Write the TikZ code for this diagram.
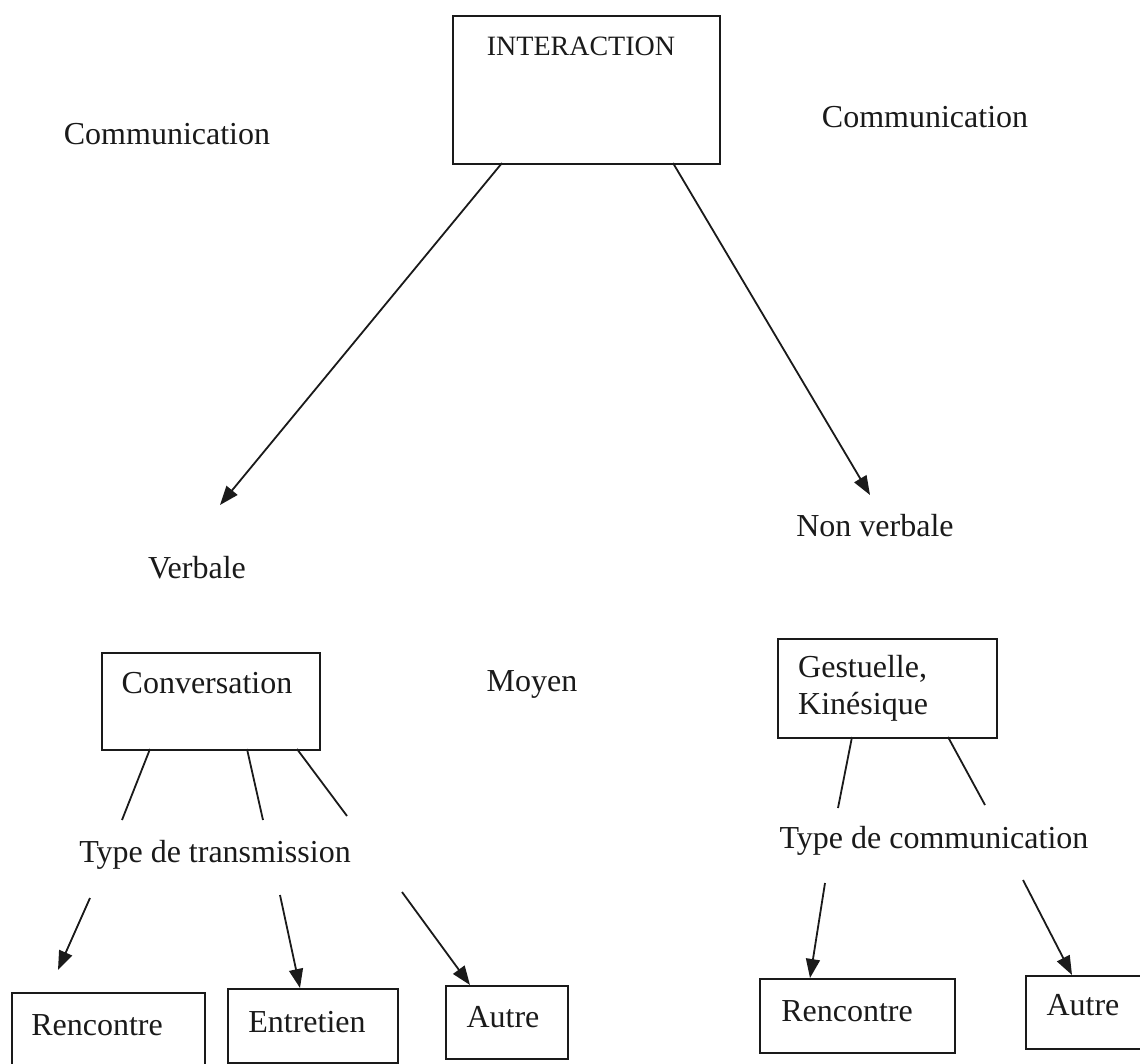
\documentclass[tikz,border=0pt]{standalone}
\usepackage{fontspec}
\setmainfont{Liberation Serif}
\usetikzlibrary{arrows.meta}
\definecolor{ink}{HTML}{1A1A1A}
\tikzset{
  box/.style={draw=ink, line width=2pt, rectangle, inner sep=0pt, anchor=north west},
  txt/.style={text=ink, inner sep=0pt, anchor=base, font=\fontsize{32}{36}\selectfont},
  con/.style={draw=ink, line width=1.8pt},
  arr/.style={draw=ink, line width=1.8pt, -{Triangle[length=19pt,width=14pt]}},
}
\begin{document}
\begin{tikzpicture}[x=1pt, y=-1pt]
\useasboundingbox[fill=white] (0,0) rectangle (1140,1064);

% boxes
\node[box, minimum width=267pt, minimum height=148pt] (inter) at (452,15) {};
\node[box, minimum width=218pt, minimum height=97pt] (conv) at (101,652) {};
\node[box, minimum width=219pt, minimum height=99pt] (gest) at (777,638) {};
\node[box, minimum width=193pt, minimum height=72pt] (renL) at (11,992) {};
\node[box, minimum width=170pt, minimum height=74pt] (entr) at (227,988) {};
\node[box, minimum width=122pt, minimum height=73pt] (autL) at (445,985) {};
\node[box, minimum width=195pt, minimum height=74pt] (renR) at (759,978) {};
\node[box, minimum width=140pt, minimum height=73pt] (autR) at (1025,975) {};

% texts
\node[txt, font=\fontsize{28}{32}\selectfont] (tinter) at (581,56) {INTERACTION};
\node[txt] (comL) at (167,145) {Communication};
\node[txt] (comR) at (925,128) {Communication};
\node[txt] (verb) at (197,578) {Verbale};
\node[txt] (nverb) at (875,536) {Non verbale};
\node[txt] (tconv) at (207,693) {Conversation};
\node[txt] (moyen) at (532,691) {Moyen};
\node[txt, anchor=base west] (tgest1) at (798,677) {Gestuelle,};
\node[txt, anchor=base west] (tgest2) at (798,714) {Kinésique};
\node[txt] (ttrans) at (215,862) {Type de transmission};
\node[txt] (tcomm) at (934,848) {Type de communication};
\node[txt] (trenL) at (97,1035) {Rencontre};
\node[txt] (tentr) at (307,1032) {Entretien};
\node[txt] (tautL) at (503,1027) {Autre};
\node[txt] (trenR) at (847,1021) {Rencontre};
\node[txt] (tautR) at (1083,1015) {Autre};

% free ends
\coordinate (a1s) at (502,163);
\coordinate (a1e) at (220,505);
\coordinate (a2s) at (673,163);
\coordinate (a2e) at (870,495);
\coordinate (c1s) at (150,749);
\coordinate (c1e) at (122,820);
\coordinate (c2s) at (247,749);
\coordinate (c2e) at (263,820);
\coordinate (c3s) at (297,749);
\coordinate (c3e) at (347,816);
\coordinate (g1s) at (852,737);
\coordinate (g1e) at (838,808);
\coordinate (g2s) at (948,737);
\coordinate (g2e) at (985,805);
\coordinate (b1s) at (90,898);
\coordinate (b1e) at (58,970);
\coordinate (b2s) at (280,895);
\coordinate (b2e) at (300,988);
\coordinate (b3s) at (402,892);
\coordinate (b3e) at (470,985);
\coordinate (r1s) at (825,883);
\coordinate (r1e) at (810,978);
\coordinate (r2s) at (1023,880);
\coordinate (r2e) at (1072,975);

% connectors
\draw[arr] (a1s) -- (a1e);
\draw[arr] (a2s) -- (a2e);
\draw[con] (c1s) -- (c1e);
\draw[con] (c2s) -- (c2e);
\draw[con] (c3s) -- (c3e);
\draw[con] (g1s) -- (g1e);
\draw[con] (g2s) -- (g2e);
\draw[arr] (b1s) -- (b1e);
\draw[arr] (b2s) -- (b2e);
\draw[arr] (b3s) -- (b3e);
\draw[arr] (r1s) -- (r1e);
\draw[arr] (r2s) -- (r2e);
\end{tikzpicture}
\end{document}
